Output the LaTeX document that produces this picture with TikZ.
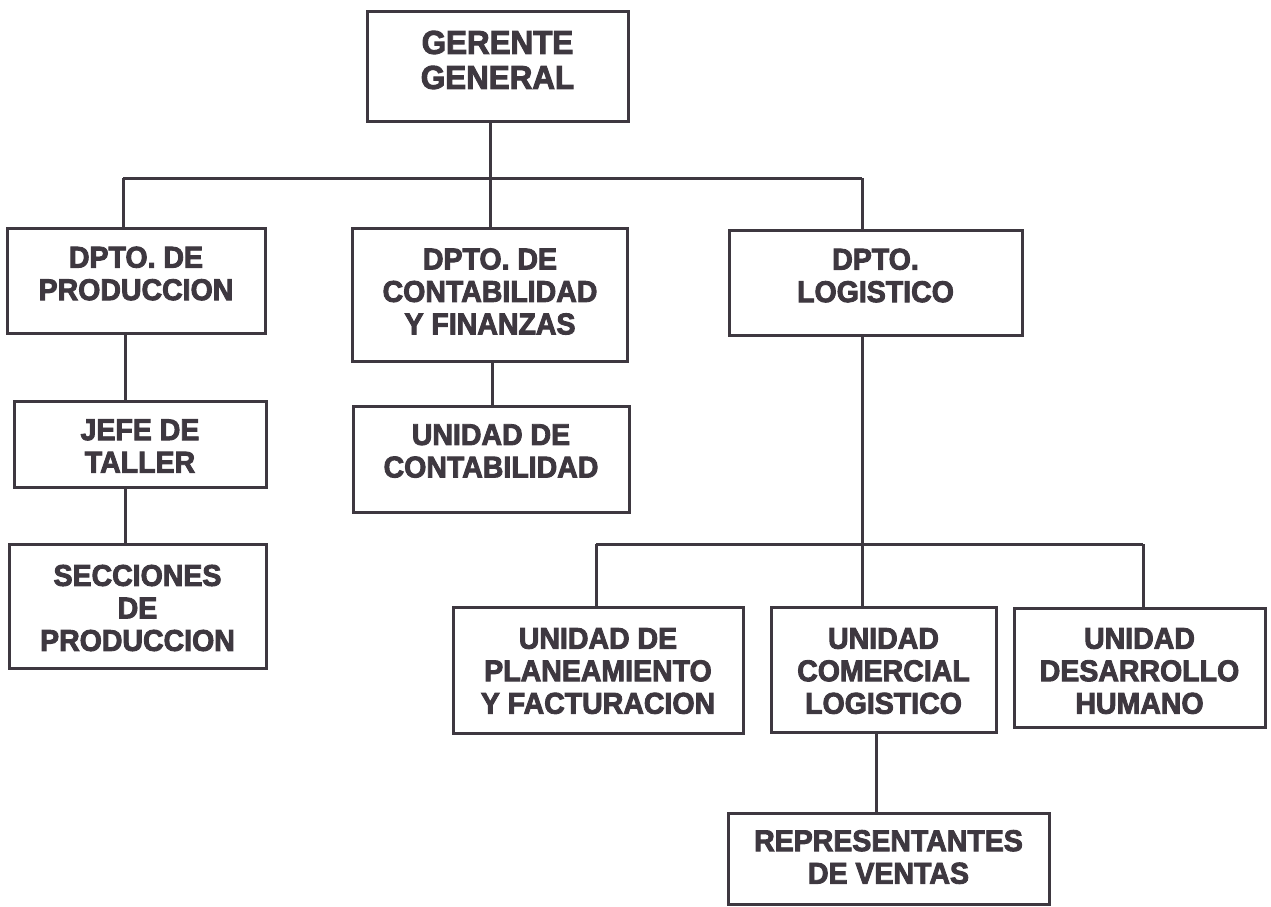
\documentclass[tikz,border=0pt]{standalone}
\usepackage{fontspec}
\setmainfont{Liberation Sans}[BoldFeatures={FakeBold=3,FakeStretch=0.95}]
\definecolor{ink}{RGB}{62,56,64}
\tikzset{
  box/.style={draw=ink, line width=3pt, rectangle, inner sep=0pt},
  lbl/.style={inner sep=0pt, align=center, text=ink,
    font=\fontsize{30}{32.5}\selectfont\bfseries},
  biglbl/.style={lbl, font=\fontsize{33}{35}\selectfont\bfseries},
  wire/.style={draw=ink, line width=3pt}
}
\newcommand{\bx}[8]{\node[box, minimum width=#4, minimum height=#5,
  label={[#8, yshift=#7]center:#6}] (#1) at (#2,#3) {};}
\begin{document}
\begin{tikzpicture}[x=1pt,y=-1pt]
\useasboundingbox (0,0) rectangle (1271,906);
\bx{gg}{497.5}{66}{261pt}{110pt}{GERENTE\\GENERAL}{6pt}{biglbl}
\bx{prod}{136}{280.5}{258pt}{105pt}{DPTO. DE\\PRODUCCION}{7pt}{lbl}
\bx{cont}{490}{294.5}{275pt}{133pt}{DPTO. DE\\CONTABILIDAD\\Y FINANZAS}{3pt}{lbl}
\bx{log}{875.5}{282.5}{293pt}{105pt}{DPTO.\\LOGISTICO}{7pt}{lbl}
\bx{jefe}{140}{444}{252pt}{86pt}{JEFE DE\\TALLER}{-2pt}{lbl}
\bx{ucont}{491}{459}{276pt}{106pt}{UNIDAD DE\\CONTABILIDAD}{8pt}{lbl}
\bx{secc}{137.5}{606}{257pt}{124pt}{SECCIONES\\DE\\PRODUCCION}{-2pt}{lbl}
\bx{plan}{598}{670}{290pt}{126pt}{UNIDAD DE\\PLANEAMIENTO\\Y FACTURACION}{-1pt}{lbl}
\bx{com}{883.5}{669.5}{225pt}{125pt}{UNIDAD\\COMERCIAL\\LOGISTICO}{-1.5pt}{lbl}
\bx{des}{1139.5}{667.5}{251pt}{119pt}{UNIDAD\\DESARROLLO\\HUMANO}{-3.5pt}{lbl}
\bx{rep}{888.5}{858.5}{321pt}{91pt}{REPRESENTANTES\\DE VENTAS}{1.5pt}{lbl}
\coordinate (busL) at (123,178);
\coordinate (busR) at (862,178);
\coordinate (bus2L) at (596,544);
\coordinate (bus2R) at (1143,544);
\coordinate (bus2M) at (862,544);
\draw[wire] (busL) -- (busR);
\draw[wire] (gg.south -| 490,0) -- (busL -| 490,0);
\draw[wire] (busL) -- (busL |- prod.north);
\draw[wire] (cont.north) -- (cont.north |- busL);
\draw[wire] (busR) -- (busR |- log.north);
\draw[wire] (log.south -| busR) -- (bus2M);
\draw[wire] (bus2L) -- (bus2R);
\draw[wire] (bus2L) -- (bus2L |- plan.north);
\draw[wire] (bus2M) -- (bus2M |- com.north);
\draw[wire] (bus2R) -- (bus2R |- des.north);
\draw[wire] (prod.south -| 125,0) -- (jefe.north -| 125,0);
\draw[wire] (jefe.south -| 125,0) -- (secc.north -| 125,0);
\draw[wire] (cont.south -| 492,0) -- (ucont.north -| 492,0);
\draw[wire] (com.south -| 876,0) -- (rep.north -| 876,0);
\end{tikzpicture}
\end{document}
